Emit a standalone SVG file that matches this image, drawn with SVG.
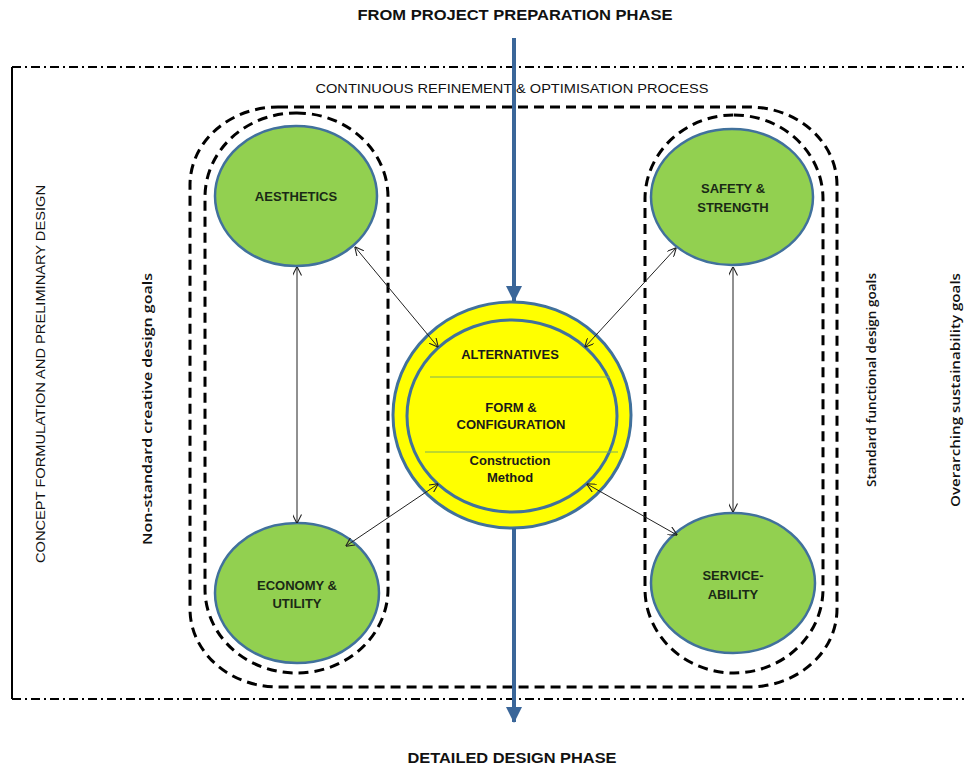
<svg xmlns="http://www.w3.org/2000/svg" width="964" height="766" viewBox="0 0 964 766">
<defs>
<style>
.frame{fill:none;stroke:#000;stroke-width:2;stroke-dasharray:9 4 2 4}
.dash{fill:none;stroke:#000;stroke-width:3;stroke-dasharray:10 6}
.green{fill:#92D050;stroke:#41719C;stroke-width:2.5}
.yel{fill:#FFFF00;stroke:#41719C;stroke-width:3}
.sep{stroke:#7DB05A;stroke-width:1.2}
.t{font-family:"Liberation Sans",Arial,sans-serif;font-weight:bold;font-size:13px;fill:#1A2A16;text-anchor:middle}
.ty{font-family:"Liberation Sans",Arial,sans-serif;font-weight:bold;font-size:13px;fill:#1A1A1A;text-anchor:middle}
.title{font-family:"Liberation Sans",Arial,sans-serif;font-weight:bold;font-size:14px;fill:#111;text-anchor:middle}
.lab{font-family:"Liberation Sans",Arial,sans-serif;font-size:13px;fill:#111;text-anchor:middle}
.side{font-family:"Open Sans","Noto Sans",sans-serif;font-weight:600;font-size:13px;fill:#111;text-anchor:middle}
.thin{stroke:#222;stroke-width:1;fill:none;marker-start:url(#oa);marker-end:url(#oa)}
.blue{stroke:#3A6699;stroke-width:4;fill:none}
</style>
<marker id="oa" viewBox="0 0 10 10" refX="9.5" refY="5" markerWidth="9" markerHeight="9" markerUnits="userSpaceOnUse" orient="auto-start-reverse">
<path d="M0,0 L10,5 L0,10" fill="none" stroke="#222" stroke-width="1.2"/>
</marker>
<marker id="ba" viewBox="0 0 16 16" refX="15" refY="8" markerWidth="16" markerHeight="16" markerUnits="userSpaceOnUse" orient="auto">
<path d="M0,0 L16,8 L0,16 Z" fill="#3A6699"/>
</marker>
</defs>
<rect width="964" height="766" fill="#fff"/>

<g id="frame">
<line class="frame" x1="12" y1="67" x2="964" y2="67"/>
<line class="frame" x1="12" y1="699" x2="964" y2="699"/>
<line x1="12" y1="67" x2="12" y2="699" stroke="#000" stroke-width="2"/>
</g>

<g id="boundaries">
<rect class="dash" x="190" y="107" width="647" height="580" rx="88" ry="78"/>
<rect class="dash" x="205" y="113" width="183" height="560" rx="91" ry="84"/>
<rect class="dash" x="645" y="115" width="178" height="558" rx="89" ry="84"/>
</g>

<g id="labels">
<text class="title" x="515" y="20" textLength="315" lengthAdjust="spacingAndGlyphs">FROM PROJECT PREPARATION PHASE</text>
<text class="lab" x="512" y="93" textLength="393" lengthAdjust="spacingAndGlyphs">CONTINUOUS REFINEMENT &amp; OPTIMISATION PROCESS</text>
<text class="title" x="512" y="763" font-size="15" textLength="209" lengthAdjust="spacingAndGlyphs">DETAILED DESIGN PHASE</text>
<text class="lab" transform="translate(45,374) rotate(-90)" textLength="378" lengthAdjust="spacingAndGlyphs">CONCEPT FORMULATION  AND  PRELIMINARY  DESIGN</text>
<text class="side" transform="translate(152,409) rotate(-90)" textLength="272" lengthAdjust="spacingAndGlyphs">Non-standard creative design goals</text>
<text class="side" transform="translate(876,380) rotate(-90)" textLength="214" lengthAdjust="spacingAndGlyphs">Standard functional design goals</text>
<text class="side" transform="translate(960,390) rotate(-90)" textLength="234" lengthAdjust="spacingAndGlyphs">Overarching sustainability  goals</text>
</g>

<g id="aesthetics">
<ellipse class="green" cx="296" cy="196" rx="81" ry="70"/>
<text class="t" x="296" y="201">AESTHETICS</text>
</g>
<g id="economy">
<ellipse class="green" cx="297" cy="593" rx="82" ry="70"/>
<text class="t" x="297" y="590">ECONOMY &amp;</text>
<text class="t" x="297" y="608">UTILITY</text>
</g>
<g id="safety">
<ellipse class="green" cx="732" cy="197" rx="81" ry="68"/>
<text class="t" x="733" y="193">SAFETY &amp;</text>
<text class="t" x="733" y="212">STRENGTH</text>
</g>
<g id="serviceability">
<ellipse class="green" cx="733" cy="583" rx="82" ry="70"/>
<text class="t" x="733" y="580">SERVICE-</text>
<text class="t" x="733" y="599">ABILITY</text>
</g>
<g id="alternatives">
<ellipse class="yel" cx="512" cy="415" rx="119" ry="113"/>
<ellipse class="yel" cx="512" cy="416" rx="105" ry="96"/>
<line class="sep" x1="430" y1="377" x2="610" y2="377"/>
<line class="sep" x1="425" y1="452" x2="618" y2="452"/>
<text class="ty" x="510" y="359">ALTERNATIVES</text>
<text class="ty" x="511" y="412">FORM &amp;</text>
<text class="ty" x="511" y="429">CONFIGURATION</text>
<text class="ty" x="510" y="465" font-size="12">Construction</text>
<text class="ty" x="510" y="482" font-size="12">Method</text>
</g>

<g id="connectors">
<line class="blue" x1="514" y1="38" x2="514" y2="301" marker-end="url(#ba)"/>
<line class="blue" x1="514" y1="528" x2="514" y2="722" marker-end="url(#ba)"/>
<line class="thin" x1="355" y1="247" x2="438" y2="347"/>
<line class="thin" x1="676" y1="248" x2="585" y2="347"/>
<line class="thin" x1="346" y1="546" x2="438" y2="484"/>
<line class="thin" x1="677" y1="535" x2="587" y2="484"/>
<line class="thin" x1="297" y1="267" x2="297" y2="523"/>
<line class="thin" x1="733" y1="267" x2="733" y2="512"/>
</g>
</svg>
